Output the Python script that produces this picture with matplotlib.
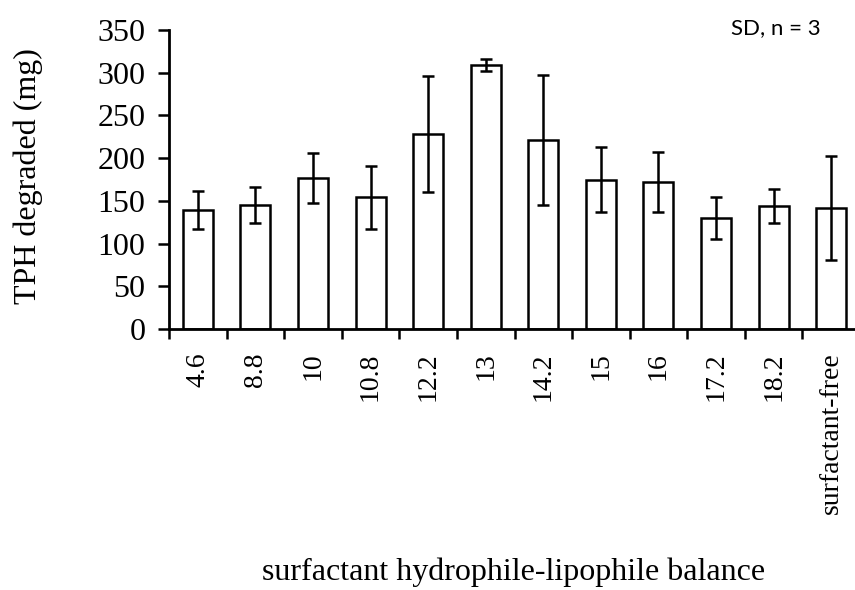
import matplotlib
matplotlib.use("Agg")
import matplotlib.pyplot as plt
import numpy as np

categories = ["4.6", "8.8", "10", "10.8", "12.2", "13", "14.2", "15", "16", "17.2", "18.2", "surfactant-free"]
means = [139.5, 145.5, 176.5, 154, 228, 309, 221, 174.5, 172.5, 130, 143.5, 141.5]
sds = [22, 21, 29, 37, 68, 7, 76, 38, 35, 25, 20, 61]
y_ticks = [0, 50, 100, 150, 200, 250, 300, 350]

serif = "Liberation Serif"

fig = plt.figure(figsize=(8.55, 5.90), dpi=100)
ax = fig.add_axes([169/855, 1 - 329/590, (860 - 169)/855, (329 - 30)/590])

x = np.arange(len(categories)) + 0.5
ax.bar(x, means, width=0.52, color="white", edgecolor="black", linewidth=1.8, zorder=2)
ax.errorbar(x, means, yerr=sds, fmt="none", ecolor="black", elinewidth=1.8,
            capsize=4.5, capthick=1.8, zorder=3)

ax.set_xlim(0, len(categories))
ax.set_ylim(0, 350)
ax.set_yticks(y_ticks)
ax.set_yticklabels([str(v) for v in y_ticks], fontfamily=serif, fontsize=23)

ax.set_xticks(np.arange(len(categories) + 1))
ax.set_xticklabels([])
ax.set_xticks(x, minor=True)
ax.set_xticklabels(categories, minor=True, rotation=90, fontfamily=serif, fontsize=20, va="top")
ax.tick_params(axis="x", which="minor", length=0, pad=17)
ax.tick_params(axis="x", which="major", length=7, width=1.8, direction="out")
ax.tick_params(axis="y", length=8, width=1.8, direction="out", pad=9)

for s in ["top", "right"]:
    ax.spines[s].set_visible(False)
for s in ["left", "bottom"]:
    ax.spines[s].set_linewidth(2.0)

fig.text(28/855, 1 - 176/590, "TPH degraded (mg)", fontfamily=serif, fontsize=23,
         rotation=90, ha="center", va="center")
fig.text(514/855, 1 - 572/590, "surfactant hydrophile-lipophile balance",
         fontfamily=serif, fontsize=23, ha="center", va="center")
fig.text(776/855, 1 - 28/590, "SD, n = 3", fontfamily="Lato", fontsize=16,
         ha="center", va="center")

fig.savefig("out.png", dpi=100)
